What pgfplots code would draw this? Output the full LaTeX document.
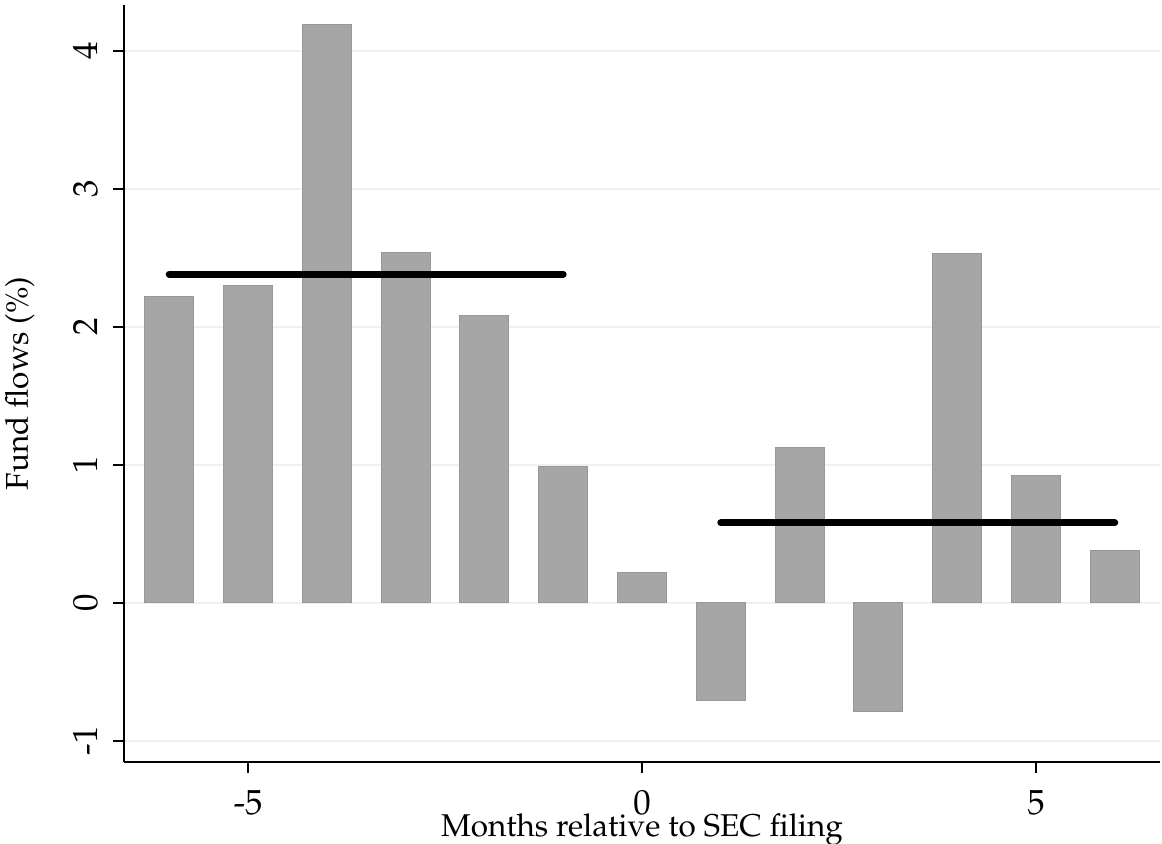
\documentclass[border=0pt]{standalone}
\usepackage[T1]{fontenc}
\usepackage{mathpazo}
\usepackage{pgfplots}
\pgfplotsset{compat=1.18}
\definecolor{gridc}{HTML}{EAF2F3}
\definecolor{barfill}{HTML}{A6A6A6}
\definecolor{baredge}{HTML}{979797}
\begin{document}
\begin{tikzpicture}
\begin{axis}[
  scale only axis,
  width=341.9pt, height=249.8pt,
  xmin=-6.574, xmax=6.574,
  ymin=-1.152, ymax=4.333,
  axis x line=bottom, axis y line=left,
  axis line style={line width=0.66pt, -},
  xtick={-5,0,5}, ytick={-1,0,1,2,3,4},
  xticklabels={-5,0,5}, yticklabels={-1,0,1,2,3,4},
  tick align=outside,
  major tick length=3.6pt,
  tick style={line width=0.66pt, black},
  ymajorgrids,
  major grid style={gridc, line width=0.66pt},
  ticklabel style={font=\fontsize{11.5}{12}\selectfont},
  yticklabel style={rotate=90, anchor=base, inner sep=0pt},
  xticklabel style={anchor=base, inner sep=0pt},
  yticklabel shift=5.3pt,
  xticklabel shift=13.9pt,
  xlabel={Months relative to SEC filing},
  ylabel={Fund flows (\%)},
  label style={font=\fontsize{10.4}{12}\selectfont, inner sep=0pt},
  xlabel style={at={(axis description cs:0.5,0)}, anchor=base, yshift=-24.75pt},
  ylabel style={at={([xshift=-31.7pt]axis description cs:0,0.5)}, rotate=0, anchor=base},
  clip=false,
]
\addplot[ybar, bar width=0.62, fill=barfill, draw=baredge, line width=0.33pt] coordinates {
(-6,2.220) (-5,2.299) (-4,4.19) (-3,2.536) (-2,2.08) (-1,0.986) (0,0.222)
(1,-0.708) (2,1.123) (3,-0.79) (4,2.529) (5,0.92) (6,0.377)
};
\addplot[black, line width=2.3pt, line cap=round] coordinates {(-6,2.382) (-1,2.382)};
\addplot[black, line width=2.3pt, line cap=round] coordinates {(1,0.58) (6,0.58)};
\end{axis}
\pgfresetboundingbox
\useasboundingbox ([xshift=-40.92pt,yshift=-27.06pt]current axis.south west) rectangle ([xshift=0.66pt,yshift=1.65pt]current axis.north east);
\end{tikzpicture}
\end{document}
